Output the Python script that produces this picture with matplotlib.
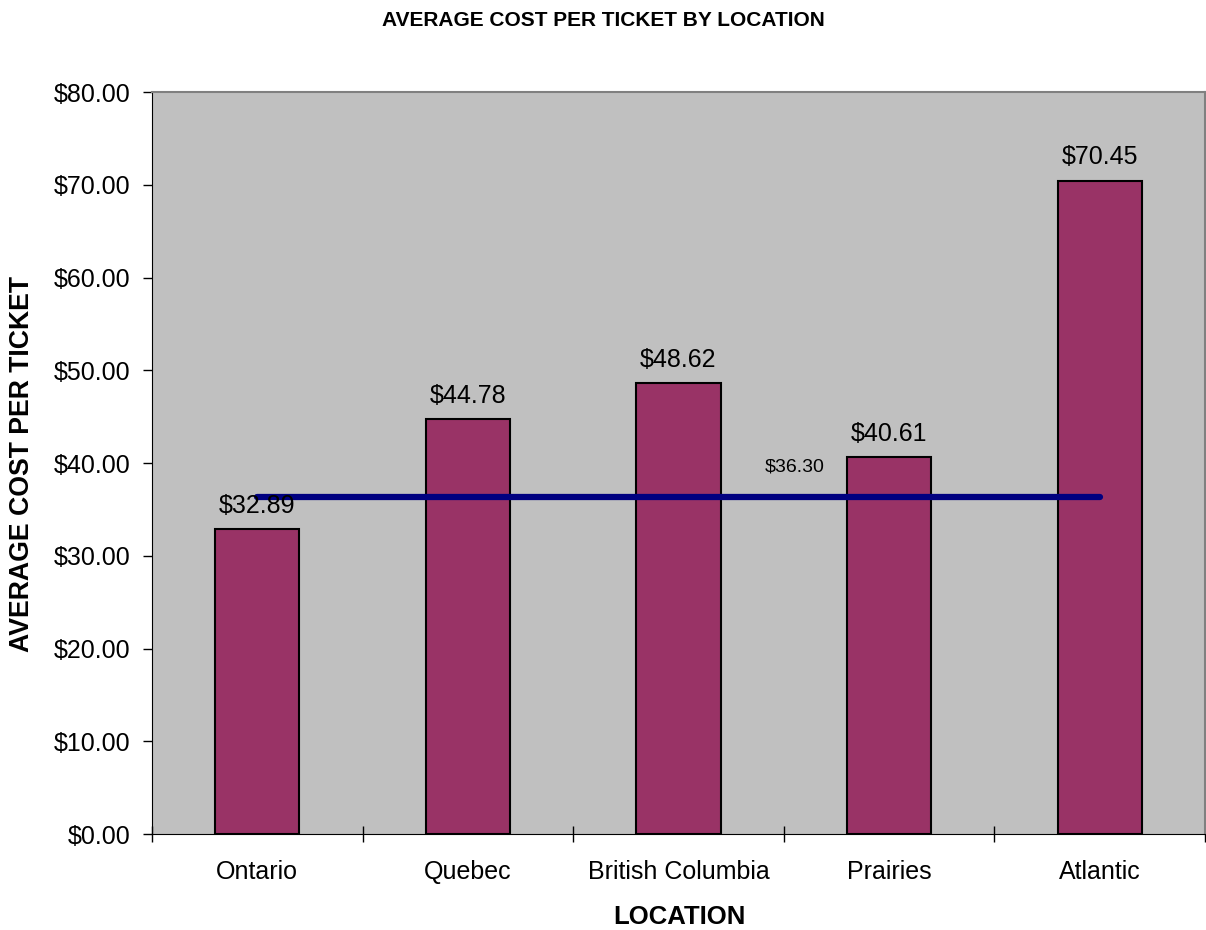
import matplotlib
matplotlib.use("Agg")
import matplotlib.pyplot as plt
import numpy as np

plt.rcParams['font.family'] = ['Liberation Sans', 'DejaVu Sans']

locations = ["Ontario", "Quebec", "British Columbia", "Prairies", "Atlantic"]
avg_cost = [32.89, 44.78, 48.62, 40.61, 70.45]
overall_avg = 36.30
y_ticks = [0, 10, 20, 30, 40, 50, 60, 70, 80]

W, H = 1206, 930
fig = plt.figure(figsize=(W / 100, H / 100), dpi=100)
ax = fig.add_axes([152 / W, 1 - 834 / H, (1205 - 152) / W, (834 - 92) / H])
ax.set_facecolor('#C0C0C0')

x = np.arange(len(locations)) + 0.5
bars = ax.bar(x, avg_cost, width=0.4, color='#993366', edgecolor='black',
              linewidth=1.5, zorder=2)

for xi, v in zip(x, avg_cost):
    ax.annotate(f"${v:.2f}", (xi, v), xytext=(0, 8), textcoords='offset points',
                ha='center', va='bottom', fontsize=18, zorder=4)

ax.plot(x, [overall_avg] * len(x), color='#000080', linewidth=4.5,
        solid_capstyle='round', zorder=3)
ax.annotate(f"${overall_avg:.2f}", (x[3], overall_avg), xytext=(-68, 22),
            textcoords='offset points', ha='center', va='center', fontsize=14,
            zorder=4)

ax.set_xlim(0, len(locations))
ax.set_ylim(0, 80)
ax.set_yticks(y_ticks)
ax.set_yticklabels([f"${t:.2f}" for t in y_ticks], fontsize=18)
ax.tick_params(axis='y', direction='out', length=6.5, width=1, pad=9)

ax.set_xticks(x)
ax.set_xticklabels(locations, fontsize=18)
ax.tick_params(axis='x', which='major', length=0, pad=19)
ax.set_xticks(np.arange(len(locations) + 1), minor=True)
ax.tick_params(axis='x', which='minor', direction='inout', length=12, width=1)

for side in ('top', 'right'):
    ax.spines[side].set_color('#808080')
    ax.spines[side].set_linewidth(1.5)
ax.spines['left'].set_color('black')
ax.spines['bottom'].set_color('black')

fig.text(0.5, 1 - 20 / H, "AVERAGE COST PER TICKET BY LOCATION", ha='center',
         va='center', fontsize=15, fontweight='bold')
fig.text(22 / W, 1 - 464 / H, "AVERAGE COST PER TICKET", rotation=90,
         ha='center', va='center', fontsize=19.2, fontweight='bold')
fig.text(679 / W, 1 - 917 / H, "LOCATION", ha='center', va='center',
         fontsize=18.5, fontweight='bold')

fig.savefig("out.png", dpi=100)
